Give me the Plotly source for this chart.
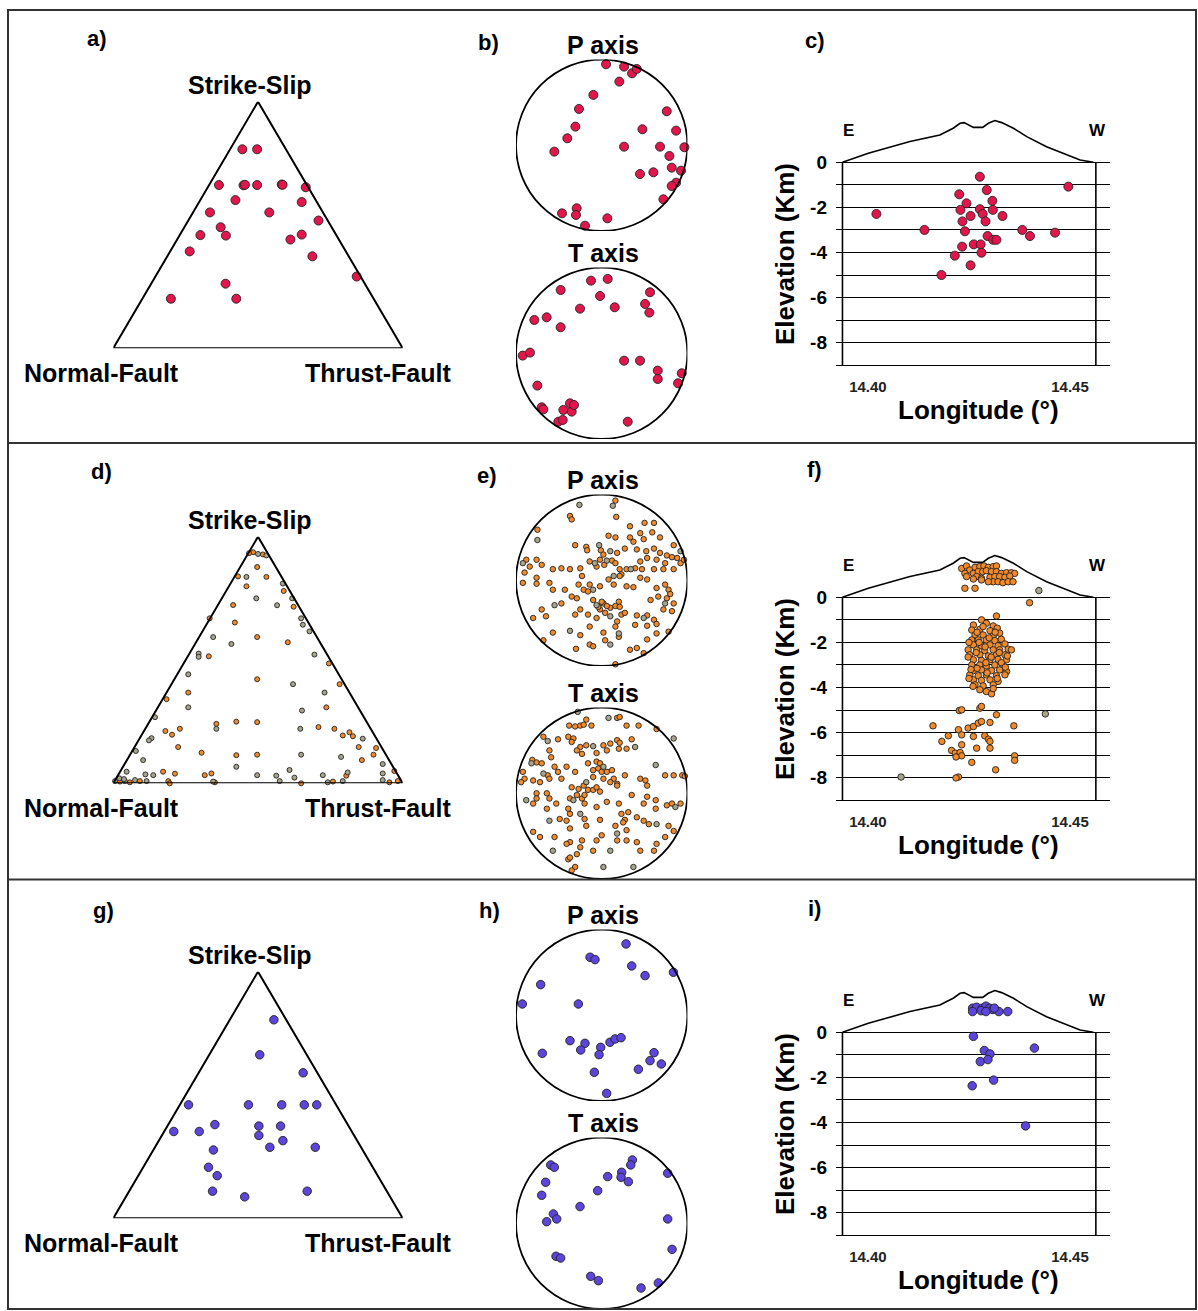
import plotly.graph_objects as go

W, H = 1198, 1311
FONT = "Liberation Sans, Arial, sans-serif"

# ---------------- DATA ----------------
# Triangle (Frohlich-type) diagrams: u = position along base (0 = Normal, 1 = Thrust), v = height (1 = Strike-Slip)
tri_a_u = [0.446, 0.497, 0.365, 0.450, 0.455, 0.497, 0.582, 0.585, 0.665, 0.422, 0.651, 0.334, 0.539, 0.709,
           0.371, 0.301, 0.389, 0.612, 0.651, 0.264, 0.688, 0.841, 0.388, 0.199, 0.425]
tri_a_v = [0.807, 0.807, 0.662, 0.661, 0.663, 0.662, 0.664, 0.663, 0.653, 0.601, 0.593, 0.551, 0.551, 0.518,
           0.491, 0.459, 0.457, 0.441, 0.461, 0.393, 0.373, 0.291, 0.262, 0.201, 0.201]

tri_d_u = [0.483, 0.517, 0.469, 0.497, 0.431, 0.529, 0.460, 0.589, 0.414, 0.623, 0.333, 0.420, 0.497, 0.603,
           0.330, 0.745, 0.497, 0.782, 0.259, 0.184, 0.736, 0.356, 0.425, 0.497, 0.230, 0.180, 0.203, 0.709,
           0.764, 0.793, 0.816, 0.828, 0.224, 0.305, 0.425, 0.497, 0.848, 0.908, 0.899, 0.859, 0.172, 0.213,
           0.316, 0.339, 0.805, 0.971, 0.023, 0.057, 0.092, 0.190, 0.195, 0.351, 0.649, 0.759, 0.954, 0.983]
tri_d_v = [0.937, 0.928, 0.933, 0.877, 0.839, 0.837, 0.799, 0.780, 0.723, 0.716, 0.669, 0.652, 0.593, 0.572,
           0.515, 0.486, 0.422, 0.402, 0.368, 0.341, 0.308, 0.241, 0.250, 0.248, 0.221, 0.212, 0.197, 0.228,
           0.221, 0.194, 0.207, 0.191, 0.147, 0.124, 0.114, 0.116, 0.147, 0.143, 0.116, 0.094, 0.047, 0.039,
           0.033, 0.040, 0.031, 0.050, 0.007, 0.004, 0.009, 0.009, 0.000, 0.004, 0.000, 0.007, 0.004, 0.009]
tri_d_gray_u = [0.500, 0.529, 0.460, 0.586, 0.494, 0.566, 0.618, 0.649, 0.655, 0.345, 0.408, 0.678, 0.295, 0.295,
                0.695, 0.259, 0.621, 0.259, 0.652, 0.730, 0.144, 0.356, 0.646, 0.132, 0.123, 0.862, 0.649, 0.078,
                0.103, 0.787, 0.931, 0.425, 0.046, 0.111, 0.138, 0.497, 0.609, 0.626, 0.810, 0.931, 0.563, 0.724,
                0.006, 0.040, 0.075, 0.115, 0.345, 0.575, 0.741, 0.793, 0.931, 0.021, 0.037]
tri_d_gray_v = [0.930, 0.924, 0.837, 0.810, 0.750, 0.722, 0.750, 0.669, 0.643, 0.593, 0.565, 0.616, 0.526, 0.513,
                0.522, 0.442, 0.402, 0.308, 0.295, 0.368, 0.268, 0.221, 0.221, 0.183, 0.174, 0.181, 0.116, 0.131,
                0.094, 0.107, 0.078, 0.067, 0.047, 0.036, 0.033, 0.033, 0.054, 0.023, 0.044, 0.040, 0.031, 0.033,
                0.009, 0.009, 0.013, 0.009, 0.007, 0.009, 0.004, 0.009, 0.013, 0.020, 0.017]

tri_g_u = [0.555, 0.506, 0.656, 0.260, 0.467, 0.582, 0.660, 0.703, 0.351, 0.503, 0.578, 0.209, 0.297, 0.503,
           0.586, 0.541, 0.698, 0.346, 0.329, 0.359, 0.343, 0.670, 0.454]
tri_g_v = [0.805, 0.663, 0.590, 0.460, 0.460, 0.460, 0.460, 0.460, 0.380, 0.374, 0.374, 0.352, 0.352, 0.336,
           0.315, 0.288, 0.288, 0.277, 0.207, 0.173, 0.110, 0.110, 0.087]

# Stereonets (lower hemisphere projection, unit radius)
p_b_x = [0.051, 0.261, 0.354, 0.409, 0.206, -0.097, -0.265, -0.307, -0.401, -0.553, 0.261, 0.475, 0.759, 0.868,
         0.965, 0.681, 0.790, 0.817, 0.926, 0.603, 0.447, 0.868, 0.817, 0.720, -0.292, -0.300, -0.463, -0.195, 0.066]
p_b_y = [0.946, 0.918, 0.840, 0.891, 0.743, 0.588, 0.424, 0.218, 0.082, -0.074, -0.016, 0.187, 0.397, 0.171,
         -0.023, -0.016, -0.125, -0.261, -0.296, -0.315, -0.335, -0.436, -0.475, -0.630, -0.735, -0.813, -0.794,
         -0.938, -0.852]
t_b_x = [-0.125, 0.070, -0.479, -0.019, -0.253, 0.152, 0.564, 0.506, 0.556, -0.786, -0.642, -0.479, -0.922,
         -0.837, 0.261, 0.447, 0.654, 0.654, 0.934, 0.891, -0.751, -0.700, -0.681, -0.447, -0.370, -0.350, -0.323,
         -0.506, -0.455, 0.304]
t_b_y = [0.848, 0.868, 0.739, 0.669, 0.521, 0.537, 0.712, 0.576, 0.475, 0.389, 0.420, 0.304, -0.027, 0.008,
         -0.086, -0.086, -0.202, -0.300, -0.233, -0.350, -0.377, -0.630, -0.654, -0.661, -0.584, -0.681, -0.603,
         -0.798, -0.778, -0.798]

p_e_x = [0.16, -0.37, -0.35, 0.17, 0.50, 0.61, 0.33, 0.45, 0.59, -0.75, 0.08, 0.16, 0.33, 0.37, 0.49, 0.68,
         -0.31, -0.18, -0.17, -0.01, 0.02, 0.18, 0.27, 0.41, 0.52, 0.61, 0.68, 0.76, 0.84, 0.82, 0.88, 0.74, 0.64,
         0.53, 0.45, -0.76, -0.88, -0.84, -0.70, -0.90, -0.92, -0.76, -0.76, -0.57, -0.47, -0.37, -0.25, -0.23,
         -0.14, -0.02, -0.06, 0.03, 0.12, 0.16, 0.21, 0.23, 0.29, 0.39, 0.47, 0.61, 0.72, 0.84, 0.92, 0.96,
         -0.61, -0.57, -0.43, -0.27, -0.35, -0.21, -0.16, -0.02, -0.14, 0.08, 0.14, 0.21, 0.29, 0.37, 0.45, 0.53,
         0.64, 0.74, 0.78, 0.80, 0.76, 0.66, 0.84, 0.57, 0.72, 0.82, -0.29, -0.10, 0.02, -0.02, 0.04, 0.10, 0.16,
         0.20, 0.21, -0.06, -0.16, -0.25, -0.47, -0.70, -0.80, -0.65, -0.31, 0.23, 0.27, 0.41, 0.53, 0.61, 0.64,
         0.53, 0.39, 0.18, 0.16, 0.20, 0.02, 0.04, -0.14, -0.25, -0.57, -0.68, -0.30, -0.14, -0.10, 0.33, 0.41,
         0.53, 0.64, 0.78, 0.49, 0.16, 0.00, -0.04, 0.06]
p_e_y = [0.93, 0.75, 0.71, 0.74, 0.67, 0.67, 0.63, 0.55, 0.56, 0.59, 0.52, 0.50, 0.50, 0.45, 0.48, 0.50,
         0.41, 0.39, 0.35, 0.35, 0.30, 0.32, 0.37, 0.36, 0.34, 0.37, 0.32, 0.29, 0.41, 0.27, 0.26, 0.20, 0.24,
         0.26, 0.22, 0.24, 0.24, 0.16, 0.18, 0.09, -0.03, 0.03, -0.04, 0.13, 0.14, 0.13, 0.14, 0.05,
         0.22, 0.24, 0.16, 0.18, 0.23, 0.20, 0.13, 0.07, 0.13, 0.14, 0.13, 0.13, 0.13, 0.13, 0.20, 0.24,
         -0.03, -0.11, -0.11, -0.05, -0.19, -0.11, -0.13, -0.07, -0.05, 0.01, -0.05, 0.05, -0.07, -0.08, 0.03, 0.01,
         -0.09, -0.05, -0.11, -0.16, -0.21, -0.19, -0.27, -0.23, -0.34, -0.36, -0.21, -0.23, -0.27, -0.34, -0.38,
         -0.32, -0.30, -0.25, -0.31, -0.44, -0.40, -0.34, -0.27, -0.34, -0.44, -0.42, -0.40, -0.40, -0.38, -0.41,
         -0.41, -0.46, -0.51, -0.53, -0.52, -0.48, -0.54, -0.66, -0.61, -0.70, -0.54, -0.64, -0.61, -0.70, -0.80,
         -0.75, -0.77, -0.81, -0.79, -0.69, -0.62, -0.60, -0.85, -0.98, -0.25, -0.31, -0.30]
p_e_gray_x = [0.13, -0.26, -0.75, -0.03, 0.10, -0.92, -0.08, 0.06, 0.34, 0.92, -0.10, 0.14, 0.74, -0.06, 0.10,
              -0.55, 0.49, 0.20, -0.37, 0.10]
p_e_gray_y = [0.87, 0.88, 0.47, 0.41, 0.34, 0.20, 0.20, 0.23, 0.13, 0.34, -0.11, 0.05, -0.27, -0.29, -0.42,
              -0.29, -0.44, -0.62, -0.59, -0.75]

t_e_x = [-0.18, -0.38, -0.31, -0.25, -0.21, -0.12, 0.18, 0.21, 0.29, 0.43, 0.64, -0.68, -0.51, -0.39, -0.33,
         -0.35, -0.25, -0.18, 0.02, 0.10, 0.18, 0.21, 0.35, 0.29, 0.20, 0.06, -0.06, -0.23, -0.29, -0.61, -0.59,
         -0.81, -0.76, -0.70, -0.55, -0.63, -0.51, -0.41, -0.31, -0.92, -0.90, -0.94, -0.80, -0.72, -0.61, -0.47,
         -0.16, -0.06, -0.02, -0.04, 0.00, -0.10, 0.06, 0.12, 0.14, 0.18, 0.10, 0.02, -0.10, -0.21, -0.27, -0.35,
         -0.37, -0.29, -0.23, -0.20, -0.16, -0.10, -0.06, 0.18, 0.27, 0.45, 0.51, 0.53, 0.74, 0.84, 0.94, 0.97,
         0.92, 0.76, 0.82, 0.63, 0.63, 0.53, 0.49, 0.35, 0.20, 0.06, -0.02, -0.76, -0.76, -0.64, -0.61, -0.53,
         -0.80, -0.64, -0.39, -0.37, -0.20, -0.06, 0.23, 0.31, 0.27, 0.41, 0.49, 0.55, 0.78, 0.74, 0.84, -0.49,
         -0.41, -0.37, -0.20, -0.18, -0.02, 0.16, 0.25, 0.29, 0.00, -0.06, -0.23, -0.25, -0.37, -0.41, -0.55,
         -0.72, -0.80, -0.39, -0.37, -0.29, -0.10, 0.18, 0.29, 0.45, 0.61, 0.64, 0.41, -0.31, -0.35]
t_e_y = [0.86, 0.79, 0.78, 0.79, 0.80, 0.79, 0.88, 0.89, 0.79, 0.79, 0.75, 0.66, 0.63, 0.66, 0.64,
         0.60, 0.54, 0.56, 0.56, 0.58, 0.62, 0.59, 0.63, 0.52, 0.52, 0.50, 0.47, 0.46, 0.50, 0.50, 0.42,
         0.39, 0.36, 0.35, 0.31, 0.21, 0.25, 0.31, 0.25, 0.25, 0.17, 0.13, 0.15, 0.13, 0.17, 0.17,
         0.35, 0.37, 0.35, 0.29, 0.25, 0.27, 0.25, 0.27, 0.17, 0.11, 0.13, 0.17, 0.19, 0.09, 0.05, 0.07,
         -0.06, -0.02, -0.06, -0.02, 0.04, 0.04, 0.07, 0.09, 0.21, 0.17, 0.15, 0.09, 0.21, 0.21, 0.21, 0.20,
         -0.12, -0.14, -0.12, -0.08, -0.18, -0.04, -0.12, -0.02, -0.12, -0.10, 0.02, 0.00, -0.06, 0.00, -0.06, -0.12,
         -0.12, -0.18, -0.18, -0.24, -0.12, -0.16, -0.24, -0.22, -0.31, -0.28, -0.32, -0.36, -0.38, -0.51, -0.44, -0.30,
         -0.32, -0.41, -0.30, -0.38, -0.31, -0.38, -0.34, -0.43, -0.49, -0.55, -0.55, -0.63, -0.57, -0.59, -0.51,
         -0.51, -0.45, -0.77, -0.75, -0.71, -0.67, -0.55, -0.55, -0.67, -0.67, -0.59, -0.57, -0.86, -0.90]
t_e_gray_x = [-0.28, 0.08, -0.63, -0.10, 0.39, -0.82, -0.68, 0.02, -0.18, -0.33, 0.63, 0.86, -0.88, -0.25,
              0.64, -0.61, 0.18, -0.57, 0.10, 0.37, 0.02, 0.84]
t_e_gray_y = [0.95, 0.88, 0.61, 0.55, 0.54, 0.35, 0.23, 0.31, 0.13, -0.08, 0.33, -0.16, -0.08, -0.24,
              -0.36, -0.32, -0.47, -0.67, -0.67, -0.86, -0.86, 0.64]

p_h_x = [0.284, -0.136, -0.078, 0.350, 0.506, 0.837, -0.712, -0.926, -0.272, -0.370, -0.195, -0.245, -0.012,
         -0.031, 0.097, 0.156, 0.226, -0.693, 0.611, 0.564, 0.696, 0.428, -0.086, 0.058]
p_h_y = [0.833, 0.677, 0.650, 0.576, 0.463, 0.502, 0.358, 0.132, 0.132, -0.296, -0.327, -0.405, -0.374,
         -0.459, -0.315, -0.276, -0.261, -0.444, -0.436, -0.529, -0.568, -0.630, -0.665, -0.911]
t_h_x = [-0.595, -0.553, 0.358, 0.339, 0.233, 0.226, 0.311, 0.070, 0.770, -0.654, -0.700, -0.047, -0.253,
         -0.564, -0.525, -0.642, 0.770, 0.821, -0.533, -0.479, -0.128, -0.039, 0.459, 0.661]
t_h_y = [0.681, 0.654, 0.739, 0.681, 0.595, 0.537, 0.486, 0.545, 0.584, 0.479, 0.327, 0.381, 0.195, 0.109,
         0.051, 0.019, 0.051, -0.304, -0.385, -0.405, -0.619, -0.669, -0.755, -0.696]

# Cross sections: longitude (deg) and elevation (km)
topo_lon = [14.3937, 14.4001, 14.4104, 14.4178, 14.4211, 14.4228, 14.4238, 14.4248, 14.4261, 14.4284, 14.4298,
            14.4314, 14.4331, 14.4360, 14.4393, 14.4442, 14.4492, 14.4525, 14.4558]
topo_elev = [0.00, 0.40, 0.92, 1.21, 1.51, 1.73, 1.76, 1.66, 1.55, 1.55, 1.73, 1.85, 1.76, 1.51, 1.14, 0.69,
             0.33, 0.10, 0.00]

sec_c_lon = [14.4277, 14.4294, 14.4226, 14.4308, 14.4244, 14.4229, 14.4277, 14.4309, 14.4284, 14.4254, 14.4333,
             14.4234, 14.4291, 14.4021, 14.4140, 14.4240, 14.4296, 14.4310, 14.4318, 14.4382, 14.4401, 14.4463,
             14.4496, 14.4233, 14.4262, 14.4279, 14.4281, 14.4215, 14.4254, 14.4182]
sec_c_elev = [-0.64, -1.23, -1.42, -1.71, -1.82, -2.11, -2.08, -2.11, -2.29, -2.38, -2.38, -2.62, -2.62, -2.29,
              -3.00, -3.06, -3.27, -3.44, -3.44, -3.00, -3.27, -3.12, -1.08, -3.74, -3.64, -3.64, -4.01, -4.14,
              -4.57, -5.00]

sec_f_lon = [14.4232, 14.4244, 14.4252, 14.4265, 14.4277, 14.4287, 14.4298, 14.4310, 14.4318, 14.4240, 14.4261,
             14.4273, 14.4284, 14.4293, 14.4306, 14.4318, 14.4330, 14.4343, 14.4355, 14.4363, 14.4244, 14.4269,
             14.4281, 14.4302, 14.4314, 14.4326, 14.4339, 14.4351, 14.4310, 14.4322, 14.4334, 14.4347, 14.4359,
             14.4298, 14.4281, 14.4261, 14.4240, 14.4265, 14.4400, 14.4318,
             14.4281, 14.4261, 14.4293, 14.4310, 14.4257, 14.4277, 14.4302, 14.4320, 14.4265, 14.4285, 14.4310,
             14.4326, 14.4257, 14.4273, 14.4293, 14.4314, 14.4330, 14.4261, 14.4281, 14.4302, 14.4322, 14.4339,
             14.4248, 14.4269, 14.4289, 14.4310, 14.4326, 14.4347, 14.4355, 14.4252, 14.4277, 14.4298, 14.4318,
             14.4339, 14.4261, 14.4281, 14.4302, 14.4322, 14.4343, 14.4257, 14.4277, 14.4293, 14.4314, 14.4334,
             14.4261, 14.4281, 14.4306, 14.4326, 14.4343, 14.4252, 14.4273, 14.4293, 14.4318, 14.4339, 14.4261,
             14.4281, 14.4302, 14.4322, 14.4265, 14.4285, 14.4310, 14.4277, 14.4293, 14.4306,
             14.4250, 14.4268, 14.4290, 14.4305, 14.4330, 14.4270, 14.4295, 14.4320, 14.4255, 14.4285, 14.4300,
             14.4275, 14.4325, 14.4340, 14.4260, 14.4310, 14.4248, 14.4315, 14.4345, 14.4270, 14.4292, 14.4250,
             14.4226, 14.4232, 14.4277, 14.4281, 14.4318, 14.4161, 14.4248, 14.4261, 14.4273, 14.4281, 14.4302,
             14.4361, 14.4183, 14.4199, 14.4224, 14.4232, 14.4261, 14.4289, 14.4298, 14.4302, 14.4232, 14.4269,
             14.4302, 14.4207, 14.4216, 14.4228, 14.4232, 14.4218, 14.4363, 14.4363, 14.4257, 14.4316, 14.4224,
             14.4218]
sec_f_elev = [1.28, 1.39, 1.21, 1.33, 1.36, 1.39, 1.33, 1.36, 1.39, 1.06, 1.06,
              1.14, 1.14, 1.18, 1.14, 1.14, 1.06, 1.09, 1.09, 1.06, 0.92, 0.92,
              0.84, 0.89, 0.92, 0.92, 0.89, 0.94, 0.69, 0.69, 0.65, 0.69, 0.69,
              0.69, 0.77, 0.81, 0.40, 0.40, -0.24, -0.83,
              -1.00, -1.23, -1.15, -1.27, -1.45, -1.42, -1.48, -1.37, -1.67, -1.67, -1.71,
              -1.59, -1.89, -1.89, -1.89, -1.92, -1.86, -2.11, -2.15, -2.11, -2.15, -2.07,
              -2.33, -2.33, -2.36, -2.33, -2.33, -2.30, -2.33, -2.55, -2.55, -2.60, -2.55,
              -2.55, -2.77, -2.80, -2.77, -2.75, -2.77, -3.00, -3.00, -3.04, -3.00, -3.04,
              -3.25, -3.22, -3.25, -3.22, -3.29, -3.44, -3.48, -3.44, -3.48, -3.44, -3.66,
              -3.69, -3.66, -3.73, -3.88, -3.93, -3.88, -4.10, -4.18, -4.28,
              -2.00, -2.45, -2.20, -2.65, -2.90, -3.15, -3.35, -3.60, -3.20, -1.30, -1.80,
              -2.00, -2.45, -3.10, -3.95, -4.05, -2.65, -1.55, -2.60, -1.55, -2.90, -3.60,
              -5.02, -4.99, -4.92, -4.84, -5.21, -5.70, -5.80, -5.73, -5.58, -5.51, -5.55,
              -5.70, -6.39, -6.14, -5.87, -6.10, -6.17, -6.14, -6.29, -6.39, -6.54, -6.69,
              -6.69, -6.79, -6.91, -6.88, -7.03, -7.08, -7.03, -7.23, -7.32, -7.65, -7.97,
              -8.01]
sec_f_gray_lon = [14.4082, 14.4439, 14.4423]
sec_f_gray_elev = [-7.97, -5.17, 0.30]

sec_i_lon = [14.4259, 14.4269, 14.4283, 14.4292, 14.4301, 14.4309, 14.4324, 14.4346, 14.4280, 14.4259, 14.4292,
             14.4313, 14.4261, 14.4288, 14.4302, 14.4278, 14.4297, 14.4412, 14.4311, 14.4258, 14.4390]
sec_i_elev = [1.07, 1.11, 1.07, 1.16, 1.07, 1.01, 0.92, 0.92, 0.96, 0.92, 0.92, 1.07, -0.18, -0.81, -0.96,
              -1.30, -1.21, -0.70, -2.12, -2.37, -4.15]

depth_ticks = [-9, -8, -7, -6, -5, -4, -3, -2, -1, 0]
depth_labels = ["", "-8", "", "-6", "", "-4", "", "-2", "", "0"]
lon_ticks = [14.40, 14.45]
lon_labels = ["14.40", "14.45"]

panel_letters = [["a)", "b)", "c)"], ["d)", "e)", "f)"], ["g)", "h)", "i)"]]

RED = "#E3164C"
ORANGE = "#F28A2A"
GRAY = "#A8A48C"
BLUE = "#5B45DB"

# ---------------- LAYOUT HELPERS ----------------
def fx(px):
    return px / W

def fy(py):
    return 1 - py / H

layout = dict(width=W, height=H, margin=dict(l=0, r=0, t=0, b=0),
              paper_bgcolor="white", plot_bgcolor="rgba(0,0,0,0)", showlegend=False)
shapes = []
annotations = []
fig = go.Figure()


def ax_names(k):
    return ("x" if k == 1 else f"x{k}"), ("y" if k == 1 else f"y{k}")


def set_axis(k, xpx, ypx, xr, yr, xextra=None, yextra=None):
    xn, yn = ax_names(k)
    xa = dict(domain=[fx(xpx[0]), fx(xpx[1])], range=xr, anchor=yn, visible=False, fixedrange=True)
    ya = dict(domain=[fy(ypx[1]), fy(ypx[0])], range=yr, anchor=xn, visible=False, fixedrange=True)
    if xextra:
        xa.update(xextra)
    if yextra:
        ya.update(yextra)
    layout["xaxis" if k == 1 else f"xaxis{k}"] = xa
    layout["yaxis" if k == 1 else f"yaxis{k}"] = ya
    return xn, yn


def text(x, y, s, size, xref="paper", yref="paper", **kw):
    annotations.append(dict(x=x, y=y, xref=xref, yref=yref, text=s, showarrow=False,
                            xanchor="center", yanchor="middle",
                            font=dict(family=FONT, size=size, color="black", weight="bold"), **kw))


def pts(xn, yn, x, y, color, size):
    fig.add_trace(go.Scatter(x=x, y=y, xaxis=xn, yaxis=yn, mode="markers", cliponaxis=False,
                             marker=dict(color=color, size=size, line=dict(color="#222", width=0.9)),
                             hoverinfo="skip"))


rows = [
    dict(tri=[(tri_a_u, tri_a_v, RED)], P=[(p_b_x, p_b_y, RED)], T=[(t_b_x, t_b_y, RED)],
         sec=[(sec_c_lon, sec_c_elev, RED)], tri_size=9, net_size=9, sec_size=9),
    dict(tri=[(tri_d_u, tri_d_v, ORANGE), (tri_d_gray_u, tri_d_gray_v, GRAY)],
         P=[(p_e_x, p_e_y, ORANGE), (p_e_gray_x, p_e_gray_y, GRAY)],
         T=[(t_e_x, t_e_y, ORANGE), (t_e_gray_x, t_e_gray_y, GRAY)],
         sec=[(sec_f_lon, sec_f_elev, ORANGE), (sec_f_gray_lon, sec_f_gray_elev, GRAY)],
         tri_size=5, net_size=5.5, sec_size=6.5),
    dict(tri=[(tri_g_u, tri_g_v, BLUE)], P=[(p_h_x, p_h_y, BLUE)], T=[(t_h_x, t_h_y, BLUE)],
         sec=[(sec_i_lon, sec_i_elev, BLUE)], tri_size=8.5, net_size=8.5, sec_size=8.5),
]
row_off = [0, 435, 870]
t_off = [0, 440, 870]
letter_pos = [[(97, 38), (488, 42), (815, 40)],
              [(101, 472), (487, 475), (815, 470)],
              [(103, 910), (490, 910), (815, 908)]]

for r, row in enumerate(rows):
    o = row_off[r]
    base = 4 * r
    # --- triangle ---
    xn, yn = set_axis(base + 1, (113.3, 402.7), (101.7 + o, 348.3 + o), [0, 1], [0, 1])
    shapes.append(dict(type="path", path="M 0,0 L 0.5,1 L 1,0 Z", xref=xn, yref=yn,
                       line=dict(color="black", width=2)))
    for (u, v, c) in row["tri"]:
        pts(xn, yn, u, v, c, row["tri_size"])
    text(fx(250), fy(85 + o), "Strike-Slip", 25)
    text(fx(101), fy(373 + o), "Normal-Fault", 25)
    text(fx(378), fy(373 + o), "Thrust-Fault", 25)
    # --- P axis net ---
    xn, yn = set_axis(base + 2, (516, 687.4), (59.6 + o, 231 + o), [-1, 1], [-1, 1])
    shapes.append(dict(type="circle", xref=xn, yref=yn, x0=-1, y0=-1, x1=1, y1=1,
                       line=dict(color="black", width=1.8)))
    for (x, y, c) in row["P"]:
        pts(xn, yn, x, y, c, row["net_size"])
    text(fx(603), fy(45 + o), "P axis", 25)
    # --- T axis net ---
    ot = t_off[r]
    xn, yn = set_axis(base + 3, (516, 687.4), (267.6 + ot, 439 + ot), [-1, 1], [-1, 1])
    shapes.append(dict(type="circle", xref=xn, yref=yn, x0=-1, y0=-1, x1=1, y1=1,
                       line=dict(color="black", width=1.8)))
    for (x, y, c) in row["T"]:
        pts(xn, yn, x, y, c, row["net_size"])
    text(fx(603), fy(253 + ot), "T axis", 25)
    # --- cross section ---
    xn, yn = set_axis(base + 4, (836, 1110), (100 + o, 367 + o), [14.3921, 14.4599], [-9.078, 2.763],
                      xextra=dict(visible=True, showgrid=False, zeroline=False, showline=False, ticks="",
                                  tickmode="array", tickvals=lon_ticks, ticktext=lon_labels,
                                  ticklabelstandoff=9,
                                  tickfont=dict(family=FONT, size=15, color="#222", weight="bold")),
                      yextra=dict(visible=True, showgrid=True, gridcolor="black", gridwidth=1.3,
                                  zeroline=False, showline=False, ticks="", tickmode="array",
                                  tickvals=depth_ticks, ticktext=depth_labels, ticklabelstandoff=8,
                                  tickfont=dict(family=FONT, size=19, color="black", weight="bold")))
    fig.add_trace(go.Scatter(x=topo_lon, y=topo_elev, xaxis=xn, yaxis=yn, mode="lines",
                             line=dict(color="black", width=1.6), hoverinfo="skip"))
    for lon_edge in (topo_lon[0], topo_lon[-1] + 0.0006):
        shapes.append(dict(type="line", xref=xn, yref=yn, x0=lon_edge, x1=lon_edge, y0=0, y1=-9,
                           line=dict(color="black", width=1.6)))
    for (x, y, c) in row["sec"]:
        pts(xn, yn, x, y, c, row["sec_size"])
    text(14.3951, 1.40, "E", 17, xref=xn, yref=yn)
    text(14.4569, 1.40, "W", 17, xref=xn, yref=yn)
    text(fx(785), fy(254 + o), "Elevation (Km)", 26, textangle=-90)
    text(fx(978), fy(410 + o), "Longitude (°)", 26)
    # panel letters
    for (lx, ly), s in zip(letter_pos[r], panel_letters[r]):
        text(fx(lx), fy(ly), s, 22)

# outer frame and row separators
shapes.append(dict(type="rect", xref="paper", yref="paper", x0=fx(8), x1=fx(1196), y0=fy(1309), y1=fy(10),
                   line=dict(color="#333", width=2)))
for ys in (443, 879.5):
    shapes.append(dict(type="line", xref="paper", yref="paper", x0=fx(8), x1=fx(1196), y0=fy(ys), y1=fy(ys),
                       line=dict(color="#333", width=2)))

layout["shapes"] = shapes
layout["annotations"] = annotations
fig.update_layout(**layout)
fig.write_html("out.html")
